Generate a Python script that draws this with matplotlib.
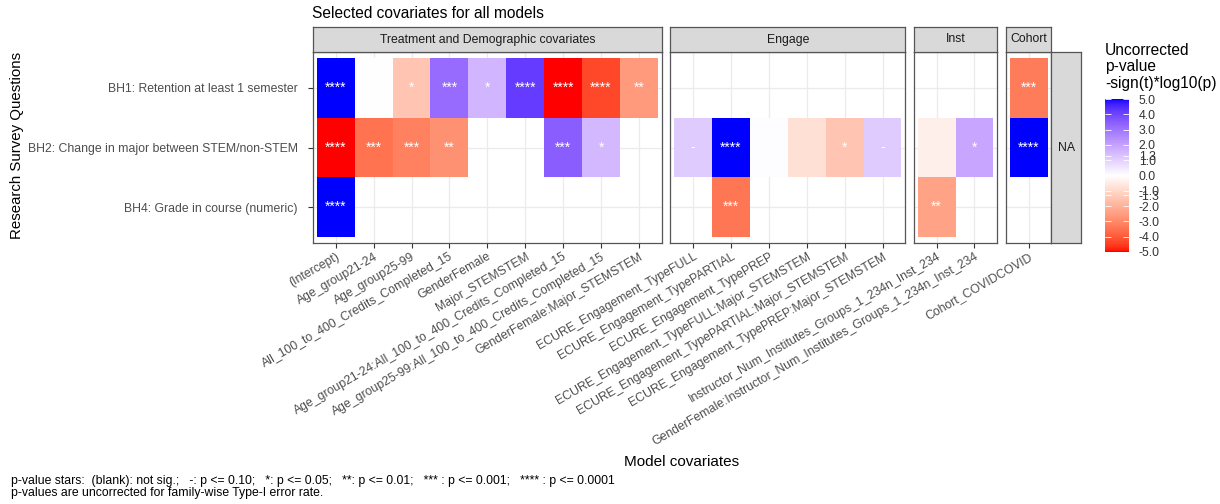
""" Heatmap of selected model covariates per research question.
"""

import numpy as np
import matplotlib
matplotlib.use('Agg')
import matplotlib.pyplot as plt
from matplotlib.colors import ListedColormap, Normalize
from matplotlib.cm import ScalarMappable

plt.rcParams['font.family'] = ['Liberation Sans', 'DejaVu Sans']

questions = ['BH1: Retention at least 1 semester',
             'BH2: Change in major between STEM/non-STEM',
             'BH4: Grade in course (numeric)']

group_names = ['Treatment and Demographic covariates', 'Engage', 'Inst', 'Cohort']

treat_covs = ['(Intercept)', 'Age_group21-24', 'Age_group25-99',
              'All_100_to_400_Credits_Completed_15', 'GenderFemale',
              'Major_STEMSTEM',
              'Age_group21-24:All_100_to_400_Credits_Completed_15',
              'Age_group25-99:All_100_to_400_Credits_Completed_15',
              'GenderFemale:Major_STEMSTEM']
engage_covs = ['ECURE_Engagement_TypeFULL', 'ECURE_Engagement_TypePARTIAL',
               'ECURE_Engagement_TypePREP',
               'ECURE_Engagement_TypeFULL:Major_STEMSTEM',
               'ECURE_Engagement_TypePARTIAL:Major_STEMSTEM',
               'ECURE_Engagement_TypePREP:Major_STEMSTEM']
inst_covs = ['Instructor_Num_Institutes_Groups_1_234n_Inst_234',
             'GenderFemale:Instructor_Num_Institutes_Groups_1_234n_Inst_234']
cohort_covs = ['Cohort_COVIDCOVID']

nan = np.nan
# -sign(t)*log10(p), rows BH1, BH2, BH4; nan = covariate not in model
treat_vals = [[5.0, -0.03, -1.5, 3.2, 1.6, 4.2, -5.0, -4.3, -2.6],
              [-5.0, -3.5, -3.2, -2.8, nan, nan, 3.5, 1.5, nan],
              [5.0, nan, nan, nan, nan, nan, nan, nan, nan]]
engage_vals = [[nan, nan, nan, nan, nan, nan],
               [1.1, 5.0, 0.05, -0.8, -1.5, 1.1],
               [nan, -3.4, nan, nan, nan, nan]]
inst_vals = [[nan, nan],
             [-0.4, 1.9],
             [-2.4, nan]]
cohort_vals = [[-3.3],
               [5.0],
               [nan]]

cbar_ticks = [5.0, 4.0, 3.0, 2.0, 1.3, 1.0, 0.0, -1.0, -1.3, -2.0, -3.0, -4.0, -5.0]

caption = ('p-value stars:  (blank): not sig.;   -: p <= 0.10;   *: p <= 0.05;   '
           '**: p <= 0.01;   *** : p <= 0.001;   **** : p <= 0.0001\n'
           'p-values are uncorrected for family-wise Type-I error rate.')

W, H = 1220, 504
DPI = 100


def _px(x0, y0, x1, y1):
    return [x0 / W, 1 - y1 / H, (x1 - x0) / W, (y1 - y0) / H]


# sRGB <-> CIELAB so the diverging ramp is interpolated like scales::gradient_n_pal
_M = np.array([[0.4124564, 0.3575761, 0.1804375],
               [0.2126729, 0.7151522, 0.0721750],
               [0.0193339, 0.1191920, 0.9503041]])
_WHITE = np.array([0.95047, 1.0, 1.08883])


def _to_lab(rgb):
    rgb = np.asarray(rgb, float)
    lin = np.where(rgb <= 0.04045, rgb / 12.92, ((rgb + 0.055) / 1.055) ** 2.4)
    xyz = _M @ lin / _WHITE
    d = 6 / 29
    f = np.where(xyz > d ** 3, np.cbrt(xyz), xyz / (3 * d * d) + 4 / 29)
    return np.array([116 * f[1] - 16, 500 * (f[0] - f[1]), 200 * (f[1] - f[2])])


def _from_lab(lab):
    L, a, b = lab
    fy = (L + 16) / 116
    f = np.array([fy + a / 500, fy, fy - b / 200])
    d = 6 / 29
    xyz = np.where(f > d, f ** 3, 3 * d * d * (f - 4 / 29)) * _WHITE
    lin = np.linalg.solve(_M, xyz)
    lin = np.clip(lin, 0, 1)
    rgb = np.where(lin <= 0.0031308, 12.92 * lin, 1.055 * lin ** (1 / 2.4) - 0.055)
    return np.clip(rgb, 0, 1)


def diverging_lab(low, mid, high, n=256):
    lo, mi, hi = _to_lab(low), _to_lab(mid), _to_lab(high)
    colors = []
    for t in np.linspace(0, 1, n):
        if t < 0.5:
            lab = lo + (mi - lo) * (t / 0.5)
        else:
            lab = mi + (hi - mi) * ((t - 0.5) / 0.5)
        colors.append(_from_lab(lab))
    return ListedColormap(colors)


def stars(value):
    a = abs(value)
    if a >= 4:
        return '****'
    if a >= 3:
        return '***'
    if a >= 2:
        return '**'
    if a >= 1.3:
        return '*'
    if a >= 1:
        return '-'
    return ''


cmap = diverging_lab((1, 0, 0), (1, 1, 1), (0, 0, 1))
norm = Normalize(vmin=-5, vmax=5)

grid_col = '#ebebeb'
border_col = '#555555'
tick_col = '#4d4d4d'
strip_col = '#d9d9d9'
small = 8.8
big = 11

fig = plt.figure(figsize=(W / DPI, H / DPI), dpi=DPI)

groups = [(treat_covs, treat_vals), (engage_covs, engage_vals),
          (inst_covs, inst_vals), (cohort_covs, cohort_vals)]

unit = 37.9
gap = 8.6
panel_top, panel_bot = 52, 243
strip_top = 27
x_left = 313
nrow = len(questions)

for g_idx, (covs, vals) in enumerate(groups):
    ncol = len(covs)
    x_right = x_left + (ncol + 0.2) * unit
    ax = fig.add_axes(_px(x_left, panel_top, x_right, panel_bot))
    data = np.ma.masked_invalid(np.array(vals, float))
    xs = np.arange(ncol + 1) + 0.5
    ys = np.arange(nrow + 1) + 0.5
    ax.pcolormesh(xs, ys, np.clip(data, -5, 5), cmap=cmap, norm=norm,
                  shading='flat', zorder=1)
    for r in range(nrow):
        for c in range(ncol):
            v = vals[r][c]
            if np.isnan(v):
                continue
            s = stars(v)
            if s:
                ax.text(c + 1, r + 1, s, ha='center', va='center',
                        color='white', fontsize=10)
    ax.set_xlim(0.4, ncol + 0.6)
    ax.set_ylim(nrow + 0.6, 0.4)
    ax.set_xticks(np.arange(1, ncol + 1))
    ax.set_xticklabels(covs, rotation=30, ha='right', va='top',
                       rotation_mode='anchor', fontsize=small, color=tick_col)
    ax.set_yticks(np.arange(1, nrow + 1))
    if g_idx == 0:
        ax.set_yticklabels(questions, fontsize=small, color=tick_col)
    else:
        ax.tick_params(axis='y', left=False, labelleft=False)
    ax.tick_params(length=3.5, width=0.8, color='#333333', pad=2)
    ax.tick_params(axis='y', pad=7.5)
    ax.set_axisbelow(True)
    ax.grid(True, color=grid_col, linewidth=0.9)
    for sp in ax.spines.values():
        sp.set_color(border_col)
        sp.set_linewidth(0.9)
        sp.set_zorder(3)

    # facet strip on top
    sax = fig.add_axes(_px(x_left, strip_top, x_right, panel_top))
    sax.set_facecolor(strip_col)
    sax.set_xticks([])
    sax.set_yticks([])
    for sp in sax.spines.values():
        sp.set_color(border_col)
        sp.set_linewidth(0.9)
    sax.text(0.5, 0.5, group_names[g_idx], transform=sax.transAxes,
             ha='center', va='center', fontsize=small, color='#1a1a1a')

    last_right = x_right
    x_left = x_right + gap

# row strip (no row facet variable -> "NA")
rax = fig.add_axes(_px(last_right, panel_top, last_right + 30, panel_bot))
rax.set_facecolor(strip_col)
rax.set_xticks([])
rax.set_yticks([])
for sp in rax.spines.values():
    sp.set_color(border_col)
    sp.set_linewidth(0.9)
rax.text(0.5, 0.5, 'NA', transform=rax.transAxes, ha='center', va='center',
         fontsize=small, color='#1a1a1a')

fig.text(312 / W, 1 - 17.5 / H, 'Selected covariates for all models',
         ha='left', va='baseline', fontsize=11.2)
fig.text(682 / W, 1 - 462 / H, 'Model covariates', ha='center', va='center',
         fontsize=big)
fig.text(17 / W, 1 - 145 / H, 'Research Survey Questions', ha='center',
         va='center', rotation=90, fontsize=10.8)
fig.text(11 / W, 1 - 475 / H, caption, ha='left', va='top', fontsize=8.8,
         linespacing=1.05)

# colour bar
cax = fig.add_axes(_px(1105, 99, 1129, 252))
cb = fig.colorbar(ScalarMappable(norm=norm, cmap=cmap), cax=cax)
cb.outline.set_visible(False)
cb.set_ticks(cbar_ticks)
cb.set_ticklabels(['{:.1f}'.format(t) for t in cbar_ticks])
cax.tick_params(axis='y', direction='in', length=4, width=0.6, color='white',
                left=True, right=True, labelleft=False, labelright=True,
                labelsize=small, labelcolor='#333333', pad=7)
fig.text(1105 / W, 1 - 43 / H, 'Uncorrected\np-value\n-sign(t)*log10(p)',
         ha='left', va='top', fontsize=11.2, linespacing=1.12)

fig.savefig('out.png', dpi=DPI)
